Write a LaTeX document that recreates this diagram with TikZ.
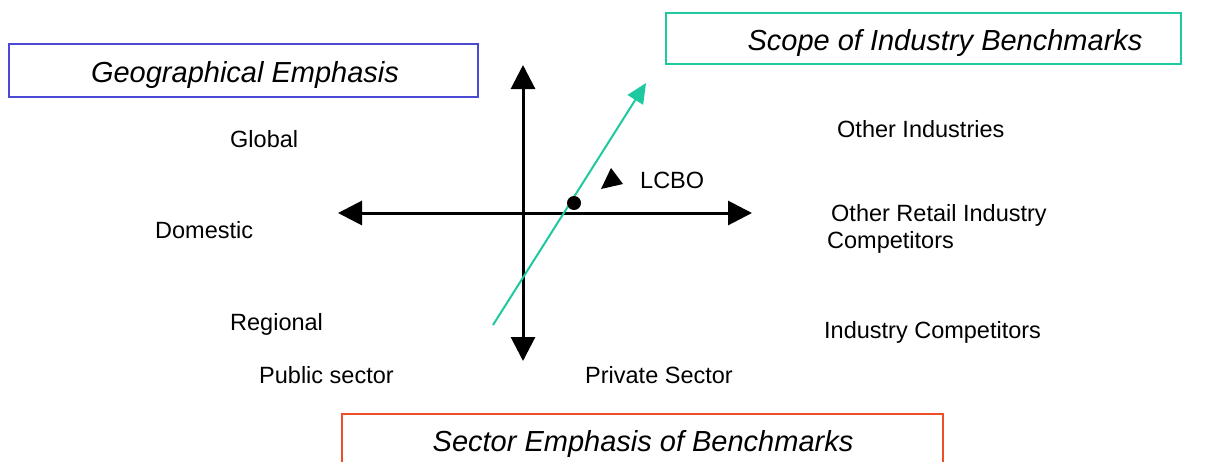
\documentclass[tikz,border=0pt]{standalone}
\usepackage{fontspec}
\setmainfont{Liberation Sans}
\usetikzlibrary{arrows.meta}
\definecolor{boxblue}{HTML}{4A4AD4}
\definecolor{boxgreen}{HTML}{1EC9A0}
\definecolor{boxred}{HTML}{F04E2A}
\tikzset{
  lbl/.style={inner sep=0pt, text height=0.72em, text depth=0pt, yshift=-5pt, font=\fontsize{23.5}{27}\selectfont},
  ttl/.style={inner sep=0pt, text height=0.72em, text depth=0pt, yshift=-7pt, font=\fontsize{29}{33}\selectfont\itshape},
  tbox/.style={line width=1.6pt},
  axis/.style={line width=3pt, {Triangle[length=24pt,width=24pt]}-{Triangle[length=24pt,width=24pt]}},
  scopearrow/.style={line width=2pt, boxgreen, -{Triangle[length=20pt,width=18pt]}}
}
\begin{document}
\begin{tikzpicture}[x=1pt,y=-1pt]
\useasboundingbox (0,0) rectangle (1221,461);
% title boxes
\draw[tbox, boxblue] (9,44) rectangle (478,97);
\node[ttl] (geo) at (245,72) {Geographical Emphasis};
\draw[tbox, boxgreen] (666,13) rectangle (1181,64);
\node[ttl] (scope) at (945,40) {Scope of Industry Benchmarks};
\draw[tbox, boxred] (342,414) rectangle (943,470);
\node[ttl] (sector) at (643,441) {Sector Emphasis of Benchmarks};
% axes
\coordinate (top) at (523,65);
\coordinate (bottom) at (523,361);
\coordinate (left) at (338,213);
\coordinate (right) at (752,213);
\draw[axis] (bottom) -- (top);
\draw[axis] (left) -- (right);
% scope arrow
\coordinate (gs) at (493,325);
\coordinate (ge) at (646,83);
\draw[scopearrow] (gs) -- (ge);
% LCBO marker
\fill (574,203) circle (7pt);
\fill (611,168) -- (623,184) -- (601,189) -- cycle;
\node[lbl, anchor=west] (lcbo) at (640,180) {LCBO};
% labels
\node[lbl, anchor=west] (global) at (230,139) {Global};
\node[lbl, anchor=west] (domestic) at (155,230) {Domestic};
\node[lbl, anchor=west] (regional) at (230,322) {Regional};
\node[lbl, anchor=west] (other) at (837,129) {Other Industries};
\node[lbl, anchor=west] (retail) at (831,213) {Other Retail Industry};
\node[lbl, anchor=west] (comp) at (827,240) {Competitors};
\node[lbl, anchor=west] (ind) at (824,330) {Industry Competitors};
\node[lbl, anchor=west] (public) at (259,375) {Public sector};
\node[lbl, anchor=west] (private) at (585,375) {Private Sector};
\end{tikzpicture}
\end{document}
